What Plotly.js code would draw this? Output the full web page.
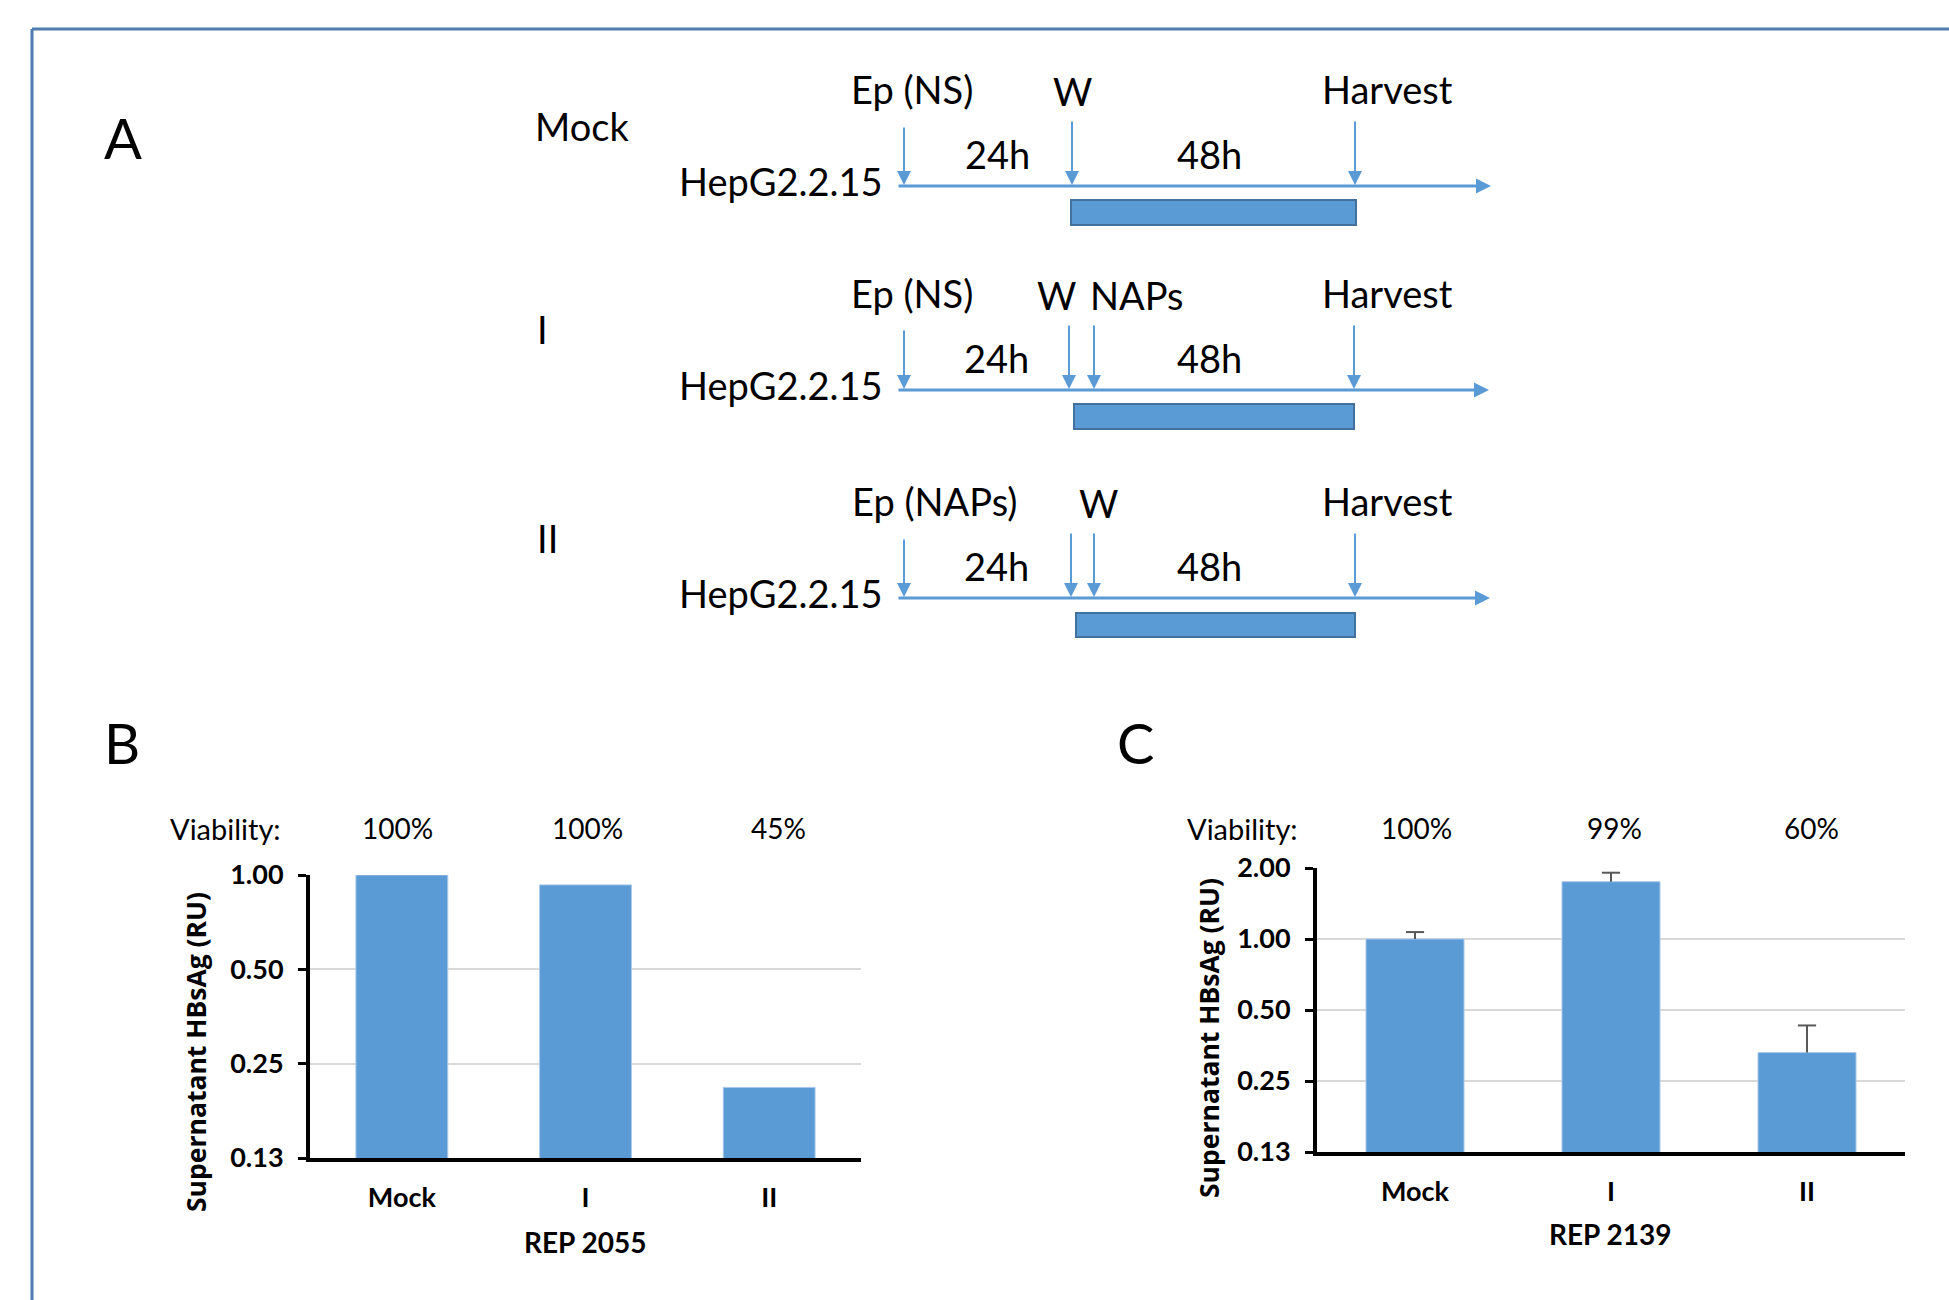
<!DOCTYPE html>
<html>
<head>
<meta charset="utf-8">
<script src="https://cdn.plot.ly/plotly-3.0.1.min.js"></script>
<style>
  html, body { margin: 0; padding: 0; background: #ffffff; }
  #chart { width: 1949px; height: 1300px; }
</style>
</head>
<body>
<div id="chart"></div>
<script>
// ---------------- DATA ----------------
const categories = ['Mock', 'I', 'II'];
const rep2055Values = [1.00, 0.93, 0.21];
const rep2139Values = [1.00, 1.75, 0.33];
const rep2139ErrPlus = [0.07, 0.16, 0.10];
const rep2055Viability = ['100%', '100%', '45%'];
const rep2139Viability = ['100%', '99%', '60%'];
const viabilityLabel = 'Viability:';
const yTitle = 'Supernatant HBsAg (RU)';
const rep2055Title = 'REP 2055';
const rep2139Title = 'REP 2139';
const yTickValsB = [0.125, 0.25, 0.5, 1];
const yTickTextB = ['0.13', '0.25', '0.50', '1.00'];
const yTickValsC = [0.125, 0.25, 0.5, 1, 2];
const yTickTextC = ['0.13', '0.25', '0.50', '1.00', '2.00'];
const panelLetters = ['A', 'B', 'C'];
const schemeRows = ['Mock', 'I', 'II'];
const schemeCellLine = 'HepG2.2.15';
const schemeTopLabels = [
  ['Ep (NS)', 'W', 'Harvest'],
  ['Ep (NS)', 'W', 'NAPs', 'Harvest'],
  ['Ep (NAPs)', 'W', 'Harvest']
];
const schemePhaseLabels = ['24h', '48h'];

// ---------------- GEOMETRY (pixels) ----------------
const W = 1949, H = 1300;
const px = x => x / W;
const py = y => 1 - y / H;

const schemeGeom = [
  { rowLabel: [533, 126], cell: [885, 181], line: [897, 1491, 186],
    arrows: [[904, 126], [1072, 120], [1355, 120]],
    labels: [[912, 89], [1072, 91], [1387, 89]],
    phases: [[997, 154], [1209, 154]], rect: [1071, 200, 1356, 225] },
  { rowLabel: [535, 329], cell: [885, 385], line: [897, 1489, 390],
    arrows: [[904, 329], [1069, 324], [1094, 324], [1354, 324]],
    labels: [[912, 293], [1056, 295], [1137, 295], [1387, 293]],
    phases: [[996, 358], [1209, 358]], rect: [1074, 404, 1354, 429] },
  { rowLabel: [535, 538], cell: [885, 593], line: [897, 1490, 598],
    arrows: [[904, 538], [1071, 532], [1094, 532], [1355, 532]],
    labels: [[934, 501], [1098, 503], [1387, 501]],
    phases: [[996, 566], [1209, 566]], rect: [1076, 613, 1355, 637] }
];
const letterPos = [[123, 137], [122, 742], [1135, 742]];
const viabShiftB = [-4, 2, 9];
const viabShiftC = [1, 3, 4];

const BLUE = '#5b9bd5';
const BLUE_DARK = '#41719c';
const FONT = 'Lato, "Open Sans", sans-serif';

// ---------------- TRACES ----------------
const rep2139ErrTop = rep2139Values.map((v, i) => v + rep2139ErrPlus[i]);
const traces = [
  {
    type: 'bar', x: categories, y: rep2055Values, xaxis: 'x', yaxis: 'y',
    marker: { color: BLUE, line: { color: '#a9c8ea', width: 1 } },
    hoverinfo: 'x+y', showlegend: false
  },
  {
    type: 'bar', x: categories, y: rep2139Values, xaxis: 'x2', yaxis: 'y2',
    marker: { color: BLUE, line: { color: '#a9c8ea', width: 1 } },
    error_y: { type: 'data', symmetric: false, array: rep2139ErrPlus,
               arrayminus: [0, 0, 0], color: '#595959', thickness: 2, width: 0 },
    hoverinfo: 'x+y', showlegend: false
  },
  {
    // caps of the (upper-only) error bars
    type: 'scatter', mode: 'markers', x: categories, y: rep2139ErrTop, xaxis: 'x2', yaxis: 'y2',
    marker: { symbol: 'line-ew', size: 13, line: { color: '#595959', width: 2 } },
    hoverinfo: 'skip', showlegend: false, cliponaxis: false
  }
];

// ---------------- ANNOTATIONS & SHAPES ----------------
const annotations = [];
const shapes = [];

// frame
shapes.push({ type: 'line', xref: 'paper', yref: 'paper', x0: px(32), y0: py(29), x1: px(1949), y1: py(29),
  line: { color: '#4f7db0', width: 3 } });
shapes.push({ type: 'line', xref: 'paper', yref: 'paper', x0: px(32), y0: py(29), x1: px(32), y1: py(1300),
  line: { color: '#4f7db0', width: 3 } });

// panel letters
panelLetters.forEach((t, i) => {
  annotations.push({ xref: 'paper', yref: 'paper', x: px(letterPos[i][0]), y: py(letterPos[i][1]),
    text: t, showarrow: false, xanchor: 'center', yanchor: 'middle',
    font: { family: FONT, size: 56, color: '#000' } });
});

// scheme A
schemeRows.forEach((row, r) => {
  const g = schemeGeom[r];
  const txt = (text, x, y, xanchor, size) => annotations.push({
    xref: 'paper', yref: 'paper', x: px(x), y: py(y), text: text, showarrow: false,
    xanchor: xanchor, yanchor: 'middle', font: { family: FONT, size: size || 38, color: '#000' } });
  txt(row, g.rowLabel[0], g.rowLabel[1], 'left');
  txt(schemeCellLine, g.cell[0], g.cell[1], 'right');
  schemeTopLabels[r].forEach((lab, k) => txt(lab, g.labels[k][0], g.labels[k][1], 'center'));
  schemePhaseLabels.forEach((lab, k) => txt(lab, g.phases[k][0], g.phases[k][1], 'center'));
  // bar (treatment period)
  shapes.push({ type: 'rect', xref: 'paper', yref: 'paper',
    x0: px(g.rect[0]), x1: px(g.rect[2]), y0: py(g.rect[1]), y1: py(g.rect[3]),
    fillcolor: BLUE, line: { color: BLUE_DARK, width: 2 } });
  // time axis arrow
  annotations.push({ xref: 'paper', yref: 'paper', x: px(g.line[1]), y: py(g.line[2]),
    ax: -(g.line[1] - g.line[0]), ay: 0, text: '', showarrow: true,
    arrowhead: 2, arrowsize: 1, arrowwidth: 3, arrowcolor: BLUE, standoff: 0 });
  // event arrows
  g.arrows.forEach(a => {
    annotations.push({ xref: 'paper', yref: 'paper', x: px(a[0]), y: py(g.line[2] - 1),
      ax: 0, ay: -(g.line[2] - 1 - a[1]), text: '', showarrow: true,
      arrowhead: 2, arrowsize: 1.4, arrowwidth: 2, arrowcolor: BLUE, standoff: 0 });
  });
});

// chart labels
function chartLabels(xref, vals, shifts, vLabelX, titleX, titleY, repText, repX, repY) {
  annotations.push({ xref: 'paper', yref: 'paper', x: px(vLabelX), y: py(828), text: viabilityLabel,
    showarrow: false, xanchor: 'center', yanchor: 'middle', font: { family: FONT, size: 29, color: '#000' } });
  vals.forEach((v, i) => annotations.push({ xref: xref, yref: 'paper', x: categories[i], y: py(828), text: v,
    xshift: shifts[i], showarrow: false, xanchor: 'center', yanchor: 'middle',
    font: { family: FONT, size: 28, color: '#000' } }));
  annotations.push({ xref: 'paper', yref: 'paper', x: px(titleX), y: py(titleY), text: '<b>' + yTitle + '</b>',
    textangle: -90, showarrow: false, xanchor: 'center', yanchor: 'middle',
    font: { family: '"Open Sans", sans-serif', size: 26.5, color: '#000' } });
  annotations.push({ xref: 'paper', yref: 'paper', x: px(repX), y: py(repY), text: '<b>' + repText + '</b>',
    showarrow: false, xanchor: 'center', yanchor: 'middle', font: { family: FONT, size: 28, color: '#000' } });
}
chartLabels('x', rep2055Viability, viabShiftB, 225, 196, 1052, rep2055Title, 585, 1242);
chartLabels('x2', rep2139Viability, viabShiftC, 1242, 1209, 1038, rep2139Title, 1610, 1234);

// ---------------- AXES ----------------
function xAxis(dom) {
  return {
    domain: dom, type: 'category', categoryorder: 'array', categoryarray: categories,
    range: [-0.5, 2.5], showline: true, linecolor: '#000', linewidth: 4, ticks: '',
    showgrid: false, zeroline: false, fixedrange: true,
    tickfont: { family: FONT, size: 27, color: '#000', weight: 'bold' }, ticklabelstandoff: 13
  };
}
function yAxis(dom, top, tv, tt) {
  return {
    domain: dom, type: 'log', range: [Math.log10(0.125), Math.log10(top)],
    tickvals: tv, ticktext: tt, showline: true, linecolor: '#000', linewidth: 4,
    ticks: 'outside', ticklen: 8, tickwidth: 3, tickcolor: '#000',
    showgrid: true, gridcolor: '#d9d9d9', gridwidth: 2, zeroline: false, fixedrange: true,
    tickfont: { family: FONT, size: 27, color: '#000', weight: 'bold' }, ticklabelstandoff: 9
  };
}

const layout = {
  width: W, height: H, margin: { l: 0, r: 0, t: 0, b: 0 },
  paper_bgcolor: '#ffffff', plot_bgcolor: 'rgba(0,0,0,0)',
  showlegend: false, bargap: 0.5,
  xaxis: xAxis([px(310), px(861)]),
  yaxis: yAxis([py(1158), py(875)], 1, yTickValsB, yTickTextB),
  xaxis2: Object.assign(xAxis([px(1317), px(1905)]), { anchor: 'y2' }),
  yaxis2: Object.assign(yAxis([py(1152), py(868)], 2, yTickValsC, yTickTextC), { anchor: 'x2' }),
  annotations: annotations,
  shapes: shapes
};
layout.xaxis.anchor = 'y';
layout.yaxis.anchor = 'x';

Plotly.newPlot('chart', traces, layout, { staticPlot: true, displayModeBar: false });
</script>
</body>
</html>
